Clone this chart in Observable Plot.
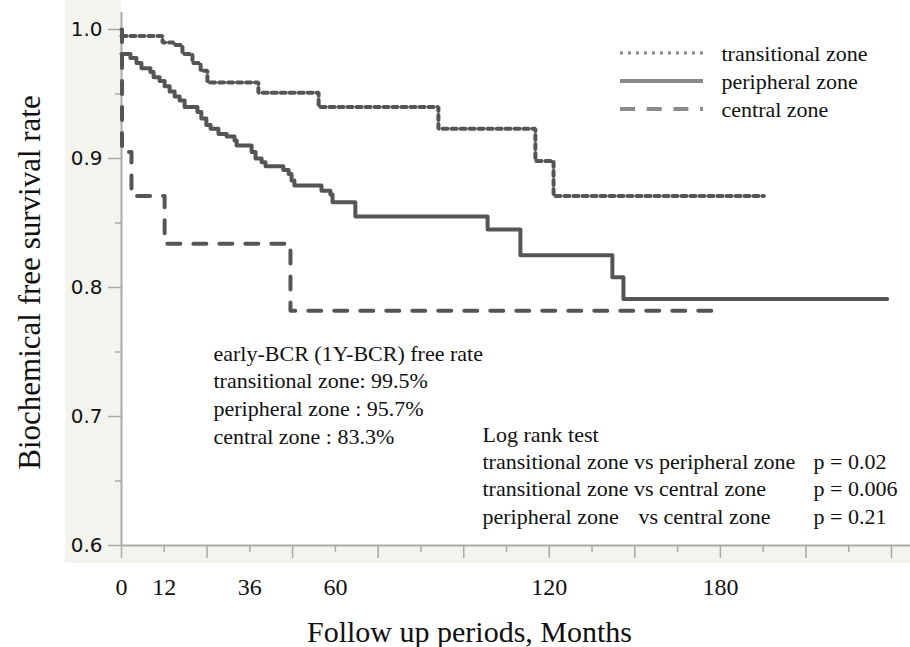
<!DOCTYPE html>
<html><head><meta charset="utf-8">
<script src="https://cdn.jsdelivr.net/npm/d3@7"></script>
<script src="https://cdn.jsdelivr.net/npm/@observablehq/plot@0.6"></script>
<style>
html,body{margin:0;padding:0;background:#fff;}
#chart svg{display:block;}
</style></head><body><div id="chart"></div>
<script>
// ---------- data ----------
const transitionalMonths   = [0, 11.5, 14.6, 17.1, 19.9, 22.2, 24.1, 38.4, 55.3, 88.9, 116.1, 121.2, 180.2];
const transitionalSurvival = [0.995, 0.990, 0.988, 0.981, 0.974, 0.968, 0.959, 0.951, 0.940, 0.923, 0.898, 0.871, 0.871];

const peripheralMonths   = [0, 2.5, 4.2, 5.6, 8.1, 9.0, 10.7, 12.1, 13.5, 14.9, 16.3, 17.7, 21.3, 22.4, 23.8, 25.0, 27.2, 29.5, 31.7, 32.3, 36.5, 37.6, 39.3, 40.4, 45.4, 46.9, 47.7, 48.5, 56.1, 58.6, 59.2, 65.6, 102.7, 111.9, 137.7, 140.8, 214.8];
const peripheralSurvival = [0.981, 0.978, 0.974, 0.970, 0.967, 0.963, 0.960, 0.956, 0.952, 0.948, 0.945, 0.940, 0.936, 0.931, 0.926, 0.923, 0.919, 0.917, 0.914, 0.910, 0.905, 0.900, 0.897, 0.894, 0.891, 0.888, 0.883, 0.879, 0.875, 0.872, 0.866, 0.855, 0.845, 0.825, 0.808, 0.791, 0.791];

const centralMonths   = [0, 0.15, 2.8, 12.1, 47.4, 167.5];
const centralSurvival = [1.0, 0.905, 0.871, 0.834, 0.782, 0.782];

const seriesNames = ["transitional zone", "peripheral zone", "central zone"];

const yTickValues = [0.6, 0.7, 0.8, 0.9, 1.0];
const yTickLabels = ["0.6", "0.7", "0.8", "0.9", "1.0"];
const yMinorTicks = [0.65, 0.75, 0.85, 0.95];
const xMajorTicks = [0, 24, 48, 72, 96, 120, 144, 168, 192, 216];
const xMinorTicks = [12, 36, 60, 84, 108, 132, 156, 180, 204];
const xTickValues = [0, 12, 36, 60, 120, 168];
const xTickLabels = ["0", "12", "36", "60", "120", "180"];

const xTitle = "Follow up periods, Months";
const yTitle = "Biochemical free survival rate";
const earlyBcrLines = ["early-BCR (1Y-BCR) free rate", "transitional zone: 99.5%", "peripheral zone : 95.7%", "central zone : 83.3%"];
const logRankLines = ["Log rank test", "transitional zone vs peripheral zone", "transitional zone vs central zone", "peripheral zone"];
const logRankTail = "vs central zone";
const logRankP = ["p = 0.02", "p = 0.006", "p = 0.21"];

// ---------- layout ----------
const W = 910, H = 647, mL = 121, mR = 0, mT = 12, mB = 102;
const xMax = 221.33, yMin = 0.6, yMax = 1.01318;
const pxX = (W - mL - mR) / xMax;          // pixels per month
const pxY = (H - mT - mB) / (yMax - yMin); // pixels per unit survival
const serif = "'Liberation Serif', 'Times New Roman', serif";
const sans = "'DejaVu Sans', 'Liberation Sans', Arial, sans-serif";
const curveColor = "#555";
const axisColor = "#a9a9a9";

const toRows = (months, surv, name) => months.map((m, i) => ({month: m, survival: surv[i], zone: name}));
const transitional = toRows(transitionalMonths, transitionalSurvival, seriesNames[0]);
const peripheral = toRows(peripheralMonths, peripheralSurvival, seriesNames[1]);
const central = toRows(centralMonths, centralSurvival, seriesNames[2]);

function background(index, scales, values, dims) {
  const g = d3.create("svg:g");
  const {width, height, marginLeft, marginBottom} = dims;
  g.append("rect").attr("x", marginLeft - 56).attr("y", 0)
    .attr("width", width - marginLeft + 56).attr("height", height - marginBottom + 18)
    .attr("fill", "#f4f4ef");
  g.append("rect").attr("x", marginLeft).attr("y", 0)
    .attr("width", width - marginLeft).attr("height", height - marginBottom)
    .attr("fill", "#ffffff");
  return g.node();
}

const legendStyles = [
  {dash: "3,5", w: 3},
  {dash: null, w: 4},
  {dash: "15,11.7", w: 4}
];
function legend(index, scales, values, dims) {
  const g = d3.create("svg:g");
  seriesNames.forEach((name, i) => {
    const y = 53 + 28 * i;
    const s = legendStyles[i];
    const l = g.append("line").attr("x1", 620).attr("x2", 703).attr("y1", y).attr("y2", y)
      .attr("stroke", "#8a8a8a").attr("stroke-width", s.w);
    if (s.dash) l.attr("stroke-dasharray", s.dash);
  });
  return g.node();
}

const T = (str, dx, dy, opts = {}) => Plot.text([str], {
  text: d => d, frameAnchor: "top-left", dx, dy,
  textAnchor: "start", lineAnchor: "middle",
  fontFamily: serif, fontSize: 22, fill: "#111", ...opts
});

const marks = [
  background,
  // axes lines
  Plot.ruleX([0], {y1: yMin, y2: yMax, stroke: axisColor, strokeWidth: 2}),
  Plot.ruleY([yMin], {x1: 0, x2: xMax, stroke: axisColor, strokeWidth: 2}),
  // y ticks
  Plot.ruleY(yTickValues, {x1: -13 / pxX, x2: 0, stroke: axisColor, strokeWidth: 1.5}),
  Plot.ruleY(yMinorTicks, {x1: -6 / pxX, x2: 0, stroke: axisColor, strokeWidth: 1.5}),
  // x ticks
  Plot.ruleX(xMajorTicks, {y1: yMin, y2: yMin - 13 / pxY, stroke: axisColor, strokeWidth: 1.5}),
  Plot.ruleX(xMinorTicks, {y1: yMin, y2: yMin - 7 / pxY, stroke: axisColor, strokeWidth: 1.5}),
  // tick labels
  Plot.text(yTickValues, {x: 0, y: d => d, text: (d, i) => yTickLabels[i], dx: -19, textAnchor: "end",
    lineAnchor: "middle", fontFamily: sans, fontSize: 20, fill: "#111"}),
  Plot.text(xTickValues, {x: d => d, y: yMin, text: (d, i) => xTickLabels[i], dy: 42,
    lineAnchor: "middle", fontFamily: serif, fontSize: 24, fill: "#111"}),
  // curves
  Plot.line(transitional, {x: "month", y: "survival", curve: "step-after", stroke: curveColor,
    strokeWidth: 4, strokeDasharray: "5,4", strokeLinejoin: "miter"}),
  Plot.line(peripheral, {x: "month", y: "survival", curve: "step-after", stroke: curveColor,
    strokeWidth: 4, strokeLinejoin: "round"}),
  Plot.line(central, {x: "month", y: "survival", curve: "step-after", stroke: curveColor,
    strokeWidth: 4, strokeDasharray: "13,13"}),
  // legend
  legend,
  ...seriesNames.map((n, i) => T(n, 600, 41 + 28 * i)),
  // annotations
  ...earlyBcrLines.map((s, i) => T(s, 92, 341 + 27.7 * i)),
  ...logRankLines.map((s, i) => T(s, 361, 422 + 27.4 * i)),
  T(logRankTail, 517, 422 + 27.4 * 3),
  ...logRankP.map((s, i) => T(s, 692, 422 + 27.4 * (i + 1))),
  // titles
  T(xTitle, 348, 620, {textAnchor: "middle", fontSize: 30}),
  T(yTitle, -91, 270, {textAnchor: "middle", fontSize: 31, rotate: -90})
];

const chart = Plot.plot({
  width: W, height: H,
  marginLeft: mL, marginRight: mR, marginTop: mT, marginBottom: mB,
  x: {domain: [0, xMax], axis: null},
  y: {domain: [yMin, yMax], axis: null},
  style: {background: "#fff", fontFamily: serif, overflow: "visible"},
  marks
});
document.getElementById("chart").appendChild(chart);
</script>
</body></html>
